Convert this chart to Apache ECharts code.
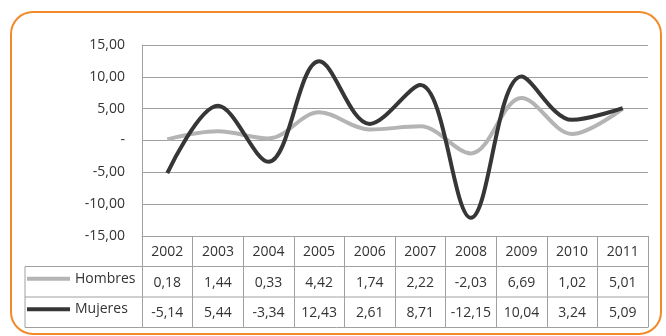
<!DOCTYPE html>
<html>
<head>
<meta charset="utf-8">
<script src="https://cdn.jsdelivr.net/npm/echarts@6/dist/echarts.min.js"></script>
<style>
html, body { margin: 0; padding: 0; background: #fff; }
#chart { width: 666px; height: 336px; }
</style>
</head>
<body>
<div id="chart"></div>
<script>
// Hombres / Mujeres 2002-2011
const years = ['2002', '2003', '2004', '2005', '2006', '2007', '2008', '2009', '2010', '2011'];
const hombres = [0.18, 1.44, 0.33, 4.42, 1.74, 2.22, -2.03, 6.69, 1.02, 5.01];
const mujeres = [-5.14, 5.44, -3.34, 12.43, 2.61, 8.71, -12.15, 10.04, 3.24, 5.09];
const yTicks = [-15, -10, -5, 0, 5, 10, 15];

const fmt = v => v.toFixed(2).replace('.', ',');
const txt = '#333333';
const lineCol = '#a0a0a0';
const font = '"Open Sans", sans-serif';

// layout
const gLeft = 142, gTop = 45, gWidth = 506, gHeight = 191;
const rowH = 30.5;
const tableLeft = 25;
const gBottom = gTop + gHeight;

const chart = echarts.init(document.getElementById('chart'));
const option = {
    backgroundColor: '#fff',
    animation: false,
    textStyle: { fontFamily: font },
    legend: [
        {
            data: ['Hombres'], left: tableLeft + 2, top: gBottom + rowH * 1.5 - 10, padding: 0,
            icon: 'rect', itemWidth: 43, itemHeight: 4,
            textStyle: { color: txt, fontSize: 14, fontFamily: font }
        },
        {
            data: ['Mujeres'], left: tableLeft + 2, top: gBottom + rowH * 2.5 - 10, padding: 0,
            icon: 'rect', itemWidth: 43, itemHeight: 4,
            textStyle: { color: txt, fontSize: 14, fontFamily: font }
        }
    ],
    grid: { left: gLeft, top: gTop, width: gWidth, height: gHeight },
    xAxis: {
        type: 'category',
        data: years,
        boundaryGap: true,
        axisLine: { show: true, onZero: false, lineStyle: { color: lineCol, width: 1 } },
        axisTick: { show: true, alignWithLabel: false, length: rowH * 3, lineStyle: { color: lineCol } },
        axisLabel: {
            margin: 1,
            interval: 0,
            color: txt,
            fontSize: 14,
            fontFamily: font,
            lineHeight: rowH,
            formatter: (v, i) => v + '\n' + fmt(hombres[i]) + '\n' + fmt(mujeres[i])
        }
    },
    yAxis: {
        type: 'value',
        min: yTicks[0],
        max: yTicks[yTicks.length - 1],
        interval: 5,
        axisLine: { show: true, lineStyle: { color: lineCol } },
        axisTick: { show: false },
        splitLine: { lineStyle: { color: lineCol, width: 1 } },
        axisLabel: {
            margin: 17,
            color: txt,
            fontSize: 14,
            fontFamily: font,
            formatter: v => (v === 0 ? '-' : fmt(v))
        }
    },
    series: [
        {
            name: 'Hombres', type: 'line', data: hombres, smooth: 0.35,
            symbol: 'none', color: '#b4b4b4',
            lineStyle: { width: 4, color: '#b4b4b4' }
        },
        {
            name: 'Mujeres', type: 'line', data: mujeres, smooth: 0.35,
            symbol: 'none', color: '#363636',
            lineStyle: { width: 4, color: '#363636' }
        }
    ],
    graphic: [
        {
            type: 'rect', silent: true,
            shape: { x: 11, y: 12, width: 650, height: 322, r: 22 },
            style: { fill: 'none', stroke: '#f28a2a', lineWidth: 2 }
        },
        // table rows
        ...[1, 2, 3].map(k => ({
            type: 'line', silent: true,
            shape: { x1: tableLeft, y1: gBottom + rowH * k, x2: gLeft + gWidth, y2: gBottom + rowH * k },
            style: { stroke: lineCol, lineWidth: 1 }
        })),
        {
            type: 'line', silent: true,
            shape: { x1: tableLeft, y1: gBottom + rowH, x2: tableLeft, y2: gBottom + rowH * 3 },
            style: { stroke: lineCol, lineWidth: 1 }
        }
    ]
};
chart.setOption(option);
</script>
</body>
</html>
